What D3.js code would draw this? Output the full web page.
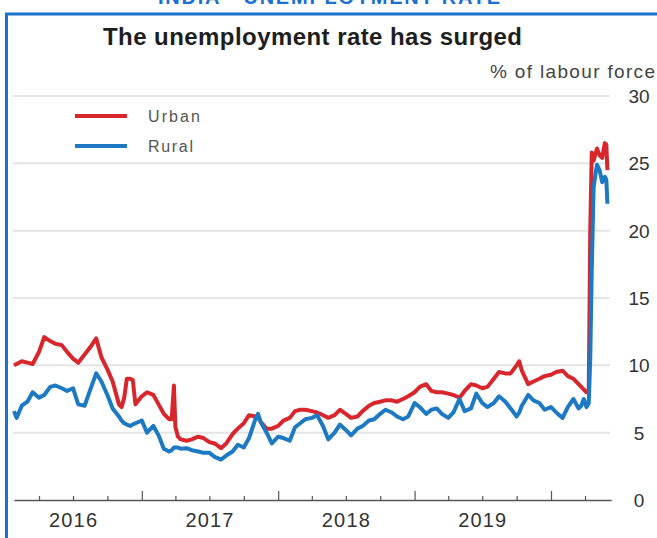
<!DOCTYPE html>
<html>
<head>
<meta charset="utf-8">
<script src="https://d3js.org/d3.v7.min.js"></script>
<style>
  body { margin: 0; background: #fff; }
  text { font-family: "Liberation Sans", Arial, sans-serif; }
</style>
</head>
<body>
<div id="chart"></div>
<script>
// weekly-ish readings of the unemployment rate, % of labour force
var dates = ["2016-01-25","2016-02-01","2016-02-15","2016-03-01","2016-03-15","2016-04-01","2016-04-15","2016-05-01","2016-05-15","2016-06-01","2016-06-15","2016-07-01","2016-07-15","2016-08-01","2016-08-15","2016-09-01","2016-09-15","2016-10-01","2016-10-15","2016-11-01","2016-11-08","2016-11-15","2016-11-22","2016-12-01","2016-12-08","2016-12-15",
  "2017-01-01","2017-01-15","2017-02-01","2017-02-15","2017-03-01","2017-03-15","2017-03-22","2017-03-28","2017-04-01","2017-04-08","2017-04-15","2017-05-01","2017-05-15","2017-06-01","2017-06-15","2017-07-01","2017-07-15","2017-08-01","2017-08-15","2017-09-01","2017-09-15","2017-10-01","2017-10-15","2017-11-01","2017-11-08","2017-11-15","2017-12-01","2017-12-15",
  "2018-01-01","2018-01-15","2018-02-01","2018-02-15","2018-03-01","2018-03-15","2018-04-01","2018-04-15","2018-05-01","2018-05-15","2018-06-01","2018-06-15","2018-07-01","2018-07-15","2018-08-01","2018-08-15","2018-09-01","2018-09-15","2018-10-01","2018-10-15","2018-11-01","2018-11-15","2018-12-01","2018-12-15",
  "2019-01-01","2019-01-15","2019-02-01","2019-02-15","2019-03-01","2019-03-15","2019-04-01","2019-04-15","2019-05-01","2019-05-15","2019-06-01","2019-06-15","2019-07-01","2019-07-15","2019-08-01","2019-08-15","2019-09-01","2019-09-15","2019-10-01","2019-10-08","2019-10-15","2019-11-01","2019-11-15","2019-12-01","2019-12-15",
  "2020-01-01","2020-01-15","2020-02-01","2020-02-15","2020-03-01","2020-03-15","2020-03-22","2020-03-29","2020-04-05","2020-04-11","2020-04-15","2020-04-19","2020-04-24","2020-04-28","2020-05-03","2020-05-10","2020-05-17","2020-05-24","2020-05-28","2020-05-31"];

var urban = [10.0,10.1,10.3,10.2,10.1,11.0,12.1,11.8,11.6,11.5,11.0,10.5,10.2,10.8,11.3,12.0,10.6,9.7,8.8,7.1,6.9,7.6,9.0,9.0,8.9,7.1,
  7.7,8.0,7.8,7.1,6.4,6.0,6.0,8.5,5.4,4.7,4.5,4.4,4.5,4.7,4.6,4.3,4.2,3.85,4.2,4.9,5.3,5.7,6.3,6.2,6.2,5.8,5.3,5.3,
  5.5,5.9,6.1,6.6,6.7,6.7,6.6,6.5,6.3,6.1,6.3,6.7,6.4,6.1,6.2,6.6,7.0,7.2,7.3,7.4,7.4,7.3,7.5,7.7,
  8.0,8.4,8.6,8.1,8.0,8.0,7.9,7.8,7.6,8.1,8.6,8.5,8.3,8.4,9.0,9.5,9.4,9.4,10.0,10.3,9.6,8.6,8.8,9.0,9.2,
  9.3,9.5,9.6,9.2,9.0,8.6,8.4,8.2,8.0,8.1,20.0,25.8,25.2,25.6,26.1,25.6,25.4,26.5,26.4,24.5];

var rural = [6.6,6.1,7.0,7.3,8.0,7.6,7.8,8.4,8.5,8.3,8.1,8.3,7.1,7.0,8.1,9.4,8.8,7.8,6.8,6.2,5.9,5.7,5.6,5.5,5.6,5.7,
  5.9,5.0,5.5,4.8,3.8,3.6,3.7,3.9,3.9,3.9,3.8,3.85,3.7,3.6,3.5,3.5,3.2,3.0,3.3,3.6,4.1,3.9,4.6,6.0,6.4,5.8,5.0,4.2,
  4.7,4.6,4.4,5.4,5.7,6.0,6.1,6.3,5.5,4.5,5.0,5.6,5.2,4.8,5.3,5.5,5.9,6.0,6.4,6.7,6.5,6.2,6.0,6.2,
  7.2,6.9,6.4,6.7,6.8,6.4,6.1,6.5,7.5,6.6,6.8,7.9,7.2,6.9,7.2,7.7,7.3,6.8,6.2,6.5,7.0,7.8,7.4,7.2,6.7,
  6.9,6.5,6.1,6.9,7.5,6.8,7.0,7.5,6.9,7.2,10.5,17.0,23.2,24.0,24.9,24.5,23.6,24.0,23.8,22.0];

var yTicks = [0, 5, 10, 15, 20, 25, 30];
var years = [2016, 2017, 2018, 2019];
var seriesNames = ["Urban", "Rural"];
var colors = ["#d8262d", "#1c79c2"];

var width = 657, height = 538;
var parse = d3.timeParse("%Y-%m-%d");

var svg = d3.select("#chart")
  .append("svg")
    .attr("width", width)
    .attr("height", height);

// blue frame of the slide
svg.append("path")
  .attr("d", "M6.5,540 L6.5,14 L660,14")
  .attr("fill", "none")
  .attr("stroke", "#1a72c9")
  .attr("stroke-width", 3);

// slide heading, cut off at the top like the source
svg.append("text")
  .attr("x", 329).attr("y", 4)
  .attr("text-anchor", "middle")
  .attr("font-size", "20px")
  .attr("font-weight", "bold")
  .attr("fill", "#1a6fd0")
  .attr("textLength", 342)
  .text("INDIA - UNEMPLOYMENT RATE");

svg.append("text")
  .attr("x", 103).attr("y", 45)
  .attr("font-size", "24px")
  .attr("font-weight", "bold")
  .attr("fill", "#1e1e1e")
  .attr("textLength", 419)
  .text("The unemployment rate has surged");

svg.append("text")
  .attr("x", 490).attr("y", 78)
  .attr("font-size", "19px")
  .attr("fill", "#444")
  .attr("textLength", 165)
  .text("% of labour force");

// scales: year starts anchored on the axis
var x = d3.scaleTime()
  .domain([new Date(2016, 0, 1), new Date(2020, 0, 1)])
  .range([5, 551]);

var y = d3.scaleLinear()
  .domain([0, 30])
  .range([500, 96]);

// gridlines
svg.append("g")
  .selectAll("line")
  .data(yTicks.filter(function(d) { return d > 0; }))
  .enter()
  .append("line")
    .attr("x1", 13).attr("x2", 610)
    .attr("y1", function(d) { return y(d); })
    .attr("y2", function(d) { return y(d); })
    .attr("stroke", "#e4e4e4")
    .attr("stroke-width", 2);

// y labels on the right
svg.append("g")
  .selectAll("text")
  .data(yTicks)
  .enter()
  .append("text")
    .attr("x", 639)
    .attr("y", function(d) { return y(d); })
    .attr("dy", "0.36em")
    .attr("text-anchor", "middle")
    .attr("font-size", "19px")
    .attr("fill", "#333")
    .text(function(d) { return d; });

// x axis with quarter ticks pointing up
var axisStart = parse("2016-01-25"), axisEnd = parse("2020-06-10");
var xa = x.copy().domain([axisStart, axisEnd]).range([x(axisStart), x(axisEnd)]);

var axisG = svg.append("g")
  .attr("transform", "translate(0," + y(0) + ")")
  .call(d3.axisTop(xa).ticks(d3.timeMonth.every(3)).tickSize(4).tickSizeOuter(0).tickFormat(""));

axisG.select(".domain").attr("stroke", "#555").attr("stroke-width", 1.5);
axisG.selectAll(".tick line")
  .attr("stroke", "#555")
  .attr("stroke-width", 1.2)
  .attr("y2", function(d) { return d.getMonth() === 0 ? -9 : -4; });

svg.append("g")
  .selectAll("text")
  .data(years)
  .enter()
  .append("text")
    .attr("x", function(d) { return x(new Date(d, 6, 1)); })
    .attr("y", 527)
    .attr("text-anchor", "middle")
    .attr("font-size", "20px")
    .attr("fill", "#333")
    .attr("textLength", 48)
    .text(function(d) { return d; });

// lines
var line = d3.line()
  .x(function(d) { return x(d.date); })
  .y(function(d) { return y(d.value); });

[urban, rural].forEach(function(vals, i) {
  var data = dates.map(function(s, j) { return {date: parse(s), value: vals[j]}; });
  svg.append("path")
    .datum(data)
    .attr("fill", "none")
    .attr("stroke", colors[i])
    .attr("stroke-width", 4)
    .attr("stroke-linejoin", "round")
    .attr("d", line);
});

// legend
var legendWidths = [52, 45];
var legend = svg.append("g")
  .selectAll("g")
  .data(seriesNames)
  .enter()
  .append("g")
    .attr("transform", function(d, i) { return "translate(0," + (116 + i * 30) + ")"; });

legend.append("line")
  .attr("x1", 75).attr("x2", 127)
  .attr("stroke", function(d, i) { return colors[i]; })
  .attr("stroke-width", 4);

legend.append("text")
  .attr("x", 148)
  .attr("dy", "0.36em")
  .attr("font-size", "16px")
  .attr("fill", "#555")
  .attr("textLength", function(d, i) { return legendWidths[i]; })
  .text(function(d) { return d; });
</script>
</body>
</html>
